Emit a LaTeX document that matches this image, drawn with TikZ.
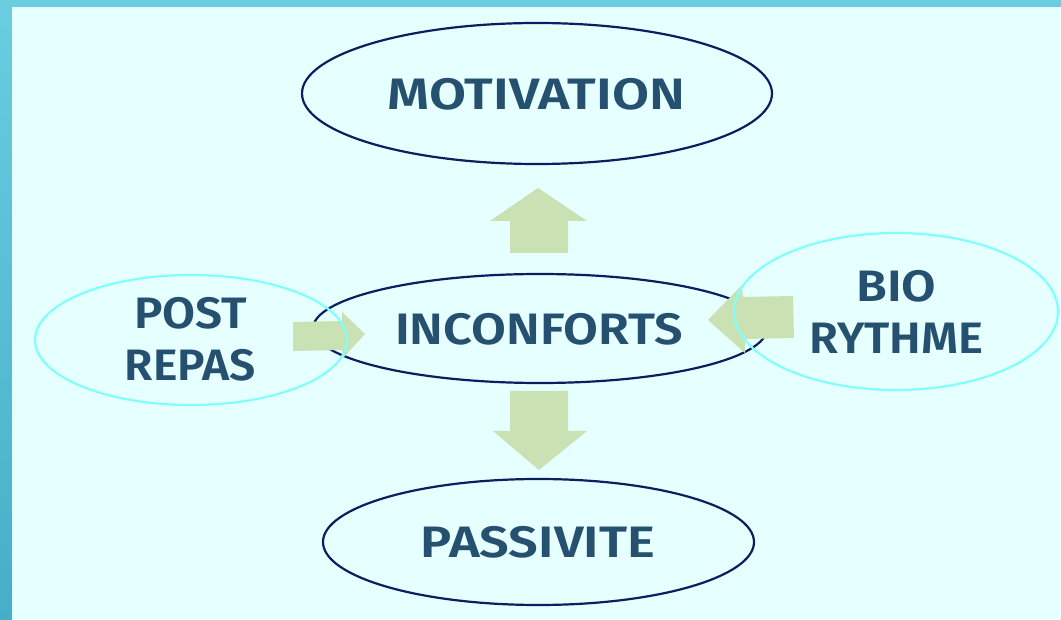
\documentclass[tikz,border=0pt]{standalone}
\usepackage{fontspec}
\setmainfont{Fira Sans}[BoldFont={Fira Sans SemiBold}]
\usepackage{graphicx}
\usetikzlibrary{shapes.geometric}
\definecolor{bgcol}{HTML}{E6FFFF}
\definecolor{frametop}{HTML}{6ACDE0}
\definecolor{framebot}{HTML}{45AFC8}
\definecolor{navy}{HTML}{0B1F5E}
\definecolor{cyanline}{HTML}{80FFFF}
\definecolor{arrowgreen}{HTML}{CAE1B4}
\definecolor{txt}{HTML}{25506F}
\newcommand\fitw[2]{\resizebox{#1}{\height}{#2}}
\tikzset{
  mainell/.style={ellipse, draw=navy, line width=2.2pt, inner sep=0pt},
  sideell/.style={ellipse, draw=cyanline, line width=2.2pt, inner sep=0pt},
  lbl/.style={text=txt, font=\bfseries\fontsize{44}{52}\selectfont, align=center, inner sep=0pt},
  blockarrow/.style={fill=arrowgreen, draw=none}
}
\begin{document}
\begin{tikzpicture}[x=1pt,y=-1pt]
\useasboundingbox (0,0) rectangle (1061,620);
% slide frame and background
\shade[top color=frametop, bottom color=framebot] (0,0) rectangle (1061,620);
\fill[bgcol] (12,7) rectangle (1061,620);

% main ellipses
\node[mainell, minimum width=470pt, minimum height=141pt] (mot) at (537,93.5) {};
\node[mainell, minimum width=454pt, minimum height=109pt] (inc) at (540,328.5) {};
\node[mainell, minimum width=431pt, minimum height=126pt] (pas) at (538.5,542) {};

% block arrows
\fill[blockarrow] (510,253) -- (510,221) -- (490,221) -- (538,188) -- (587,221) -- (568,221) -- (568,253) -- cycle;
\fill[blockarrow] (510,391) -- (568,391) -- (568,431) -- (587,431) -- (539,470) -- (493,431) -- (510,431) -- cycle;
\fill[blockarrow] (293,322) -- (342,321) -- (342,312) -- (365,334) -- (343,358) -- (342,350) -- (293,351) -- cycle;
\fill[blockarrow] (793,296) -- (743,297) -- (742,285) -- (708,320) -- (745,353) -- (745,339) -- (794,338) -- cycle;

% side ellipses
\node[sideell, minimum width=312pt, minimum height=130pt] (post) at (191,340) {};
\node[sideell, minimum width=324pt, minimum height=157pt] (bio) at (896,311.5) {};

% labels
\node[lbl] (tmot) at (536.5,94) {\fitw{297pt}{MOTIVATION}};
\node[lbl] (tinc) at (539,329.5) {\fitw{288pt}{INCONFORTS}};
\node[lbl] (tpas) at (538,542) {\fitw{234pt}{PASSIVITE}};
\node[lbl] (tpost) at (190.5,339) {\fitw{113pt}{POST}\\\fitw{131pt}{REPAS}};
\node[lbl] (tbio) at (896.5,311.5) {\fitw{80pt}{BIO}\\\fitw{174pt}{RYTHME}};
\end{tikzpicture}
\end{document}
